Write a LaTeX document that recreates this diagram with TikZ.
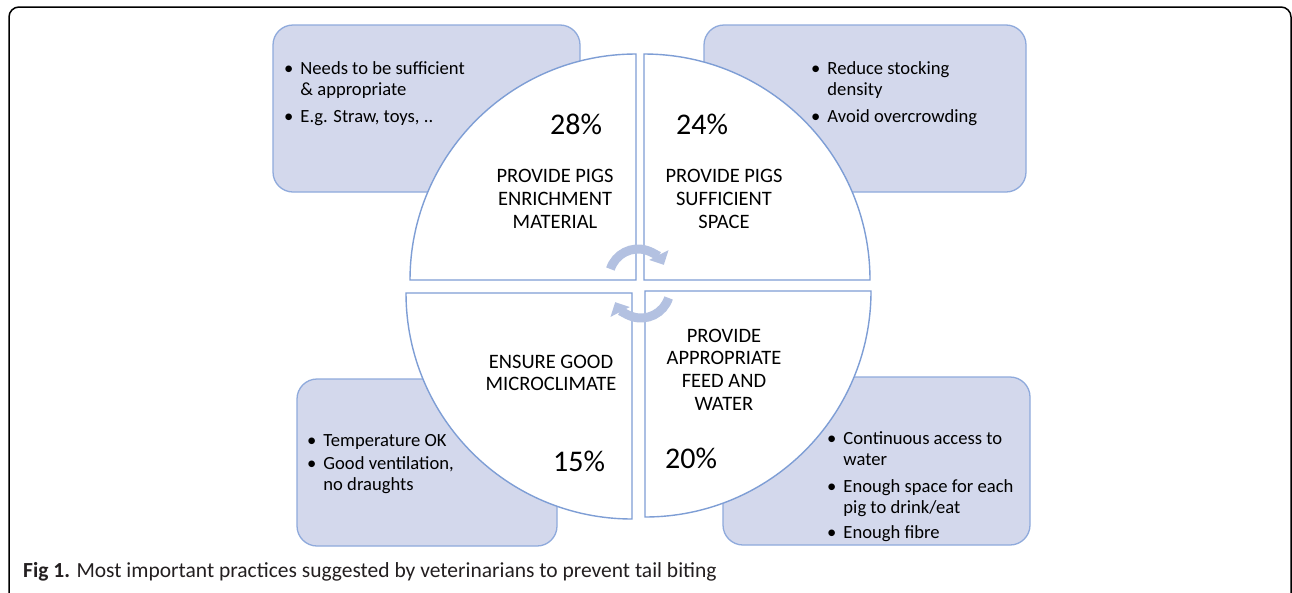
\documentclass[tikz,border=0pt]{standalone}
\usepackage{fontspec}
\setmainfont{Carlito}
\usetikzlibrary{arrows.meta}

\definecolor{boxfill}{HTML}{D3D8EC}
\definecolor{boxline}{HTML}{8FAADC}
\definecolor{quarterline}{HTML}{7E9ED5}
\definecolor{cyclecol}{HTML}{B3C1E1}
\definecolor{captext}{HTML}{231F20}

% bullet list used inside the tip boxes
\newcommand{\tiplist}[1]{\begin{tabular}{@{}l@{\hspace{7pt}}l@{}}#1\end{tabular}}

\begin{document}
\begin{tikzpicture}[
                    x=1pt, y=-1pt,
                    tipbox/.style={draw=boxline, fill=boxfill, line width=1.3pt, rounded corners=20pt},
                    quarter/.style={draw=quarterline, fill=white, line width=1.4pt},
                    task/.style={align=center, inner sep=0pt, font=\fontsize{20.5}{22.7}\selectfont},
                    share/.style={inner sep=0pt, font=\fontsize{30}{32}\selectfont},
                    tips/.style={anchor=north west, inner sep=0pt, font=\fontsize{18.6}{21}\selectfont},
                    roundarrow/.style={draw=cyclecol, line width=9pt, -{Triangle[width=21pt,length=11pt]}}
                ]
                    \useasboundingbox (0,0) rectangle (1292,592);
                    \fill[white] (0,0) rectangle (1292,592);
                    \draw[line width=1.5pt, rounded corners=10pt] (9,7) rectangle (1291,620);

                    % tip boxes behind the quarters
                    \draw[tipbox] (273,25) rectangle (580,192);
                    \draw[tipbox] (704,25) rectangle (1026,192);
                    \draw[tipbox] (297,379) rectangle (557,546);
                    \draw[tipbox] (723,377) rectangle (1030,545);

                    % the four quarters
                    \draw[quarter] (636,280) -- ++(-226,0) arc[start angle=180, end angle=270, radius=226] -- cycle;
                    \draw[quarter] (644,280) -- ++(0,-226) arc[start angle=270, end angle=360, radius=226] -- cycle;
                    \draw[quarter] (632,293) -- ++(0,226) arc[start angle=90, end angle=180, radius=226] -- cycle;
                    \draw[quarter] (645,291) -- ++(226,0) arc[start angle=0, end angle=90, radius=226] -- cycle;

                    % circular arrows in the middle
                    \draw[roundarrow] (638,278) ++(198:29) arc[start angle=198, end angle=333, radius=29];
                    \draw[roundarrow] (641,289) ++(18:29) arc[start angle=18, end angle=153, radius=29];

                    % shares and practices
                    \node[share] (enrichpct) at (576,124) {28\%};
                    \node[task] (enrich) at (555,199) {PROVIDE PIGS\\ENRICHMENT\\MATERIAL};
                    \node[share] (spacepct) at (702,124) {24\%};
                    \node[task] (space) at (724,199) {PROVIDE PIGS\\SUFFICIENT\\SPACE};
                    \node[task] (climate) at (551,373) {ENSURE GOOD\\MICROCLIMATE};
                    \node[share] (climatepct) at (579,461) {15\%};
                    \node[task] (feed) at (724,369.5) {PROVIDE\\APPROPRIATE\\FEED AND\\WATER};
                    \node[share] (feedpct) at (691,458) {20\%};

                    % tips
                    \node[tips] (enrichtips) at (284,60) {\tiplist{\textbullet & Needs to be sufficient\\
                        & \& appropriate\\[6pt] \textbullet & E.g. Straw, toys, ..}};
                    \node[tips] (spacetips) at (811,60) {\tiplist{\textbullet & Reduce stocking\\
                        & density\\[6pt] \textbullet & Avoid overcrowding}};
                    \node[tips] (climatetips) at (307,432) {\tiplist{\textbullet & Temperature OK\\[2pt]
                        \textbullet & Good ventilation,\\ & no draughts}};
                    \node[tips] (feedtips) at (827,430) {\tiplist{\textbullet & Continuous access to\\
                        & water\\[6pt] \textbullet & Enough space for each\\ & pig to drink/eat\\[4pt]
                        \textbullet & Enough fibre}};

                    % caption
                    \node[anchor=base west, inner sep=0pt, text=captext, font=\fontsize{21.5}{23}\selectfont]
                        (caption) at (23,577) {\textbf{Fig 1.} Most important practices suggested by veterinarians to prevent tail biting};
                \end{tikzpicture}
\end{document}
